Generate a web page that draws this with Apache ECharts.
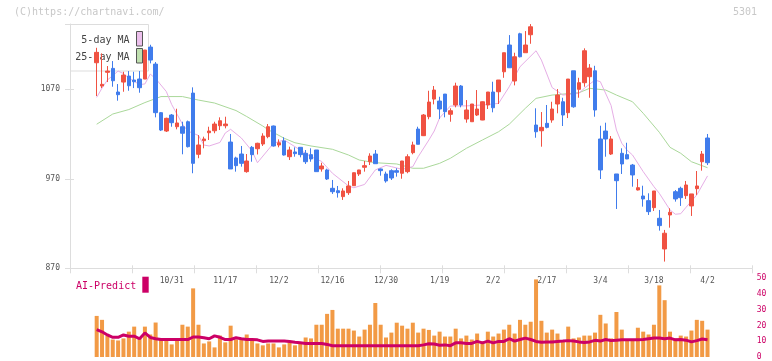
<!DOCTYPE html>
<html><head><meta charset="utf-8">
<script src="https://cdn.jsdelivr.net/npm/echarts@6/dist/echarts.min.js"></script>
<style>html,body{margin:0;padding:0;background:#fff}#c{width:772px;height:361px}</style>
</head><body><div id="c"></div>
<script>
const dates = ['10/10','10/14','10/15','10/16','10/17','10/20','10/21','10/22','10/23','10/24','10/27','10/28','10/29','10/30','10/31',
'11/4','11/5','11/6','11/7','11/10','11/11','11/12','11/13','11/14','11/17','11/18','11/19','11/20','11/21','11/25','11/26','11/27','11/28',
'12/1','12/2','12/3','12/4','12/5','12/8','12/9','12/10','12/11','12/12','12/15','12/16','12/17','12/18','12/19','12/22','12/23','12/24','12/25','12/26','12/29','12/30',
'1/5','1/6','1/7','1/8','1/9','1/13','1/14','1/15','1/16','1/19','1/20','1/21','1/22','1/23','1/26','1/27','1/28','1/29','1/30',
'2/2','2/3','2/4','2/5','2/6','2/9','2/10','2/12','2/13','2/16','2/17','2/18','2/19','2/20','2/24','2/25','2/26','2/27',
'3/2','3/3','3/4','3/5','3/6','3/9','3/10','3/11','3/12','3/13','3/16','3/17','3/18','3/19','3/23','3/24','3/25','3/26','3/27','3/30','3/31','4/1','4/2'];
const labelDates = ['10/31','11/17','12/2','12/16','12/30','1/19','2/2','2/17','3/4','3/18','4/2'];

const openP = [1099.7,1073.7,1089,1093.4,1067,1078.1,1084.8,1080.4,1081.5,1081.5,
1117.2,1098.2,1043.9,1023.4,1041.3,1028.2,1028.2,1033.8,1065.8,997.4,
1012.6,1021.5,1023.7,1029.3,1029.3,1011.1,993.3,997.7,978,1005.2,
1003.6,1008.9,1017.1,1029,1007.8,1012.3,994.7,1000,1005.2,998.5,
997,1002.2,981,979.9,959.4,956.7,950.1,954.5,962.3,975.4,
982.9,989.1,997.7,981,975.4,979.1,979.1,976.2,978,999.2,
1025.6,1018.2,1039.4,1059.1,1056.9,1064.7,1042.1,1052.5,1073.7,1036.8,
1033.8,1041.3,1035.7,1052.5,1067,1067.3,1089.6,1119.5,1079.3,1132.1,
1110.9,1131,1030.1,1023.7,1032,1035.7,1053.6,1056.1,1043.9,1090.7,
1070,1077.4,1084.1,1090.7,1014.5,1023.4,997.7,975.4,998.5,997,
985.4,957.5,950.8,945.6,937.8,925.9,891.6,929.6,955.6,959.4,
951.2,939.7,959,989.1,1015.6];
const closeP = [1111.3,1075.6,1090.4,1079.6,1064,1085.9,1074,1078.5,1071.8,1113.9,
1102.7,1043.9,1024.5,1037.6,1032.7,1032.4,1020.9,1005.9,987.3,1007.8,
1014.5,1023.4,1031.2,1034.9,1031.2,981,984.7,987.3,989.9,997,
1009.7,1017.8,1028.2,1006.7,1010.3,996.6,1002.2,998.1,997,989.1,
992.2,978,984.3,969.8,955.6,954.5,956.4,962,976.8,979.9,
984.7,995.5,986.9,979.1,967.6,970.9,977.3,989.9,994.7,1007.8,
1008.6,1041.3,1055.8,1069.2,1048,1045,1046.1,1073.7,1052.5,1046.9,
1053.6,1048,1056.1,1067,1049.4,1080.4,1110.9,1094.1,1106.4,1106.4,
1119.5,1139.9,1022.6,1027.5,1027.5,1048,1063.6,1041.3,1081.5,1050.5,
1077.4,1113.1,1093.8,1046.9,979.9,1014.5,1014.5,967.9,986.6,992.2,
974.3,960.1,947.5,933.3,956.4,917.7,909.2,932.6,947.5,948.9,
963.1,953.1,962,997.7,988];
const lowP = [1062.5,1071.4,1078.1,1072.9,1057.3,1067.3,1068.4,1071.4,1066.2,1081.5,
1099,1038.7,1023.4,1022.3,1028.2,1025.3,997.4,1005,976.2,993,
1004.1,1013.4,1020.9,1024.5,1026.4,981,978,983.6,976.8,989.1,
997.2,1006.7,1015.3,1006,1005.2,996,991,994.7,994,986.6,
989.1,978,978,968.7,953.1,949,946.4,952,962,973.2,
978,985.4,986.9,973.5,965.7,968.7,972.4,970.1,976.2,997.4,
1008.6,1017.8,1036.5,1053.2,1036.8,1038.7,1033.8,1049.9,1049.9,1032.7,
1033.8,1040.2,1035.5,1048,1044.3,1053.6,1082.9,1094,1074.4,1105.7,
1110.9,1120.9,1015.9,1005.9,1026.4,1032.7,1043.2,1029,1037.9,1049.4,
1060.6,1072.9,1060.6,1039.4,969.8,994.7,996.6,936.3,975.4,992,
961.2,957,938.9,929.6,934.1,912.1,877.5,915.4,944.5,939.7,
947.5,928.5,952,979.1,985.4];
const highP = [1116.4,1110.2,1096,1101.6,1075.9,1089.6,1090.4,1089.6,1090.4,1113.9,
1119.8,1100.5,1044.6,1038.3,1042.4,1048.3,1033.8,1035.1,1072.2,1018.9,
1017.1,1028.2,1033.8,1038.7,1039.4,1020.1,994.7,1006.7,997.7,1006.7,
1010.3,1020.9,1031.2,1029.5,1014.1,1016.4,1005.9,1005.2,1005.5,1002.2,
1004.1,1002.2,988,981.3,968.7,962,959.4,967.6,977,980,
989.9,998.5,1002.2,981.5,978,980.6,981.8,990,997.4,1011.5,
1028.2,1042.4,1068.4,1073.7,1061.7,1064.7,1048.8,1077.4,1074.8,1058,
1053.6,1069.2,1056.5,1067,1078.5,1080.4,1110.9,1130.6,1110.9,1133.2,
1135.1,1142.9,1048.8,1044.6,1052.5,1056.1,1070.3,1060.6,1081.5,1090.7,
1082.9,1115.8,1098.2,1096.3,1029.3,1032.7,1017.8,975.4,1004.1,1010.3,
986.6,969.8,962.3,953.8,956.4,935.2,912.9,937.1,957.5,961.2,
967.6,953.1,978.7,1001.1,1020.1];

const ma5 = [[0,1061],[1,1071.4],[2,1080.4],[4,1090.4],[5,1087.6],[6,1082.6],[8,1075.3],[9,1076],[10,1087],[11,1082],
[13,1067.5],[14,1053],[16,1031.2],[17,1023.4],[19,1018.4],[20,1007.8],[21,1006.7],[23,1010.6],[24,1021.2],[25,1025.3],
[27,1015.6],[29,1001.1],[30,988],[33,1009.7],[35,1013.4],[37,1005.9],[40,994.7],[42,989.4],[44,976.2],[47,962],
[48,960],[50,963.7],[52,979.9],[54,985],[55,983.6],[57,980.6],[59,983.6],[60,994.7],[62,1013.4],[63,1023.4],
[64,1038],[66,1051.3],[69,1051.5],[72,1052.5],[75,1054.3],[77,1072.9],[79,1095.2],[82,1113.1],[83,1102.7],[85,1072],
[87,1063.6],[90,1065.5],[91,1071.1],[93,1080.4],[94,1078.5],[96,1052],[97,1024.5],[98,1009.7],[99,1002],[100,996.6],
[102,978],[104,961.2],[105,953.8],[107,935.2],[108,930.4],[109,931],[110,938.2],[112,952],[114,973.2]];
const ma25 = [[0,1031],[3,1042.4],[6,1047.4],[9,1055.2],[12,1061.9],[16,1061.9],[19,1058],[22,1054.7],[26,1046.3],[28,1039.6],
[31,1029],[32,1024.9],[35,1015.3],[37,1010.3],[40,1006.7],[44,1003],[47,996.6],[49,991],[52,988],[56,986.6],
[59,981.8],[61,981.8],[64,987.3],[66,992.9],[69,1004.1],[72,1013.4],[75,1022.6],[77,1031],[80,1048.8],[82,1059.9],
[85,1063.6],[90,1066.2],[92,1071.1],[95,1069.2],[97,1063.6],[100,1056.1],[102,1043.2],[105,1022],[107,1005.2],[109,998.5],
[111,989.1],[114,982.4]];

const volume = [26.1,23.6,13.6,11.1,10.5,11.8,16.1,19.3,11.8,19.3,
14.3,21.9,11.1,11.1,8,11.1,20.5,19.3,43.6,20.5,
8.6,9.9,6.1,13.6,9.3,19.9,11.1,11.1,14.3,11.1,
8.6,7.4,8.6,8.6,6.1,8,9.3,7.4,8.6,12.4,
11.8,20.5,20.5,27.4,29.9,18,18,18,16.8,13,
17.4,20.5,34.3,20.5,12.4,15.5,21.8,19.9,18,21.8,
15.5,18,17.2,13.6,16.1,13,13,18,11.8,13.6,
11.1,14.9,9.9,16.1,13,14.9,17.4,20.5,14.9,23.6,
20.5,22.4,49.3,23,15.5,17.4,14.9,9.9,19.3,11.8,
12.4,13.6,13.6,15.5,26.8,21.3,11.8,28.6,17.4,10.5,
10.5,18.6,16.1,14.3,20.5,45.5,36.1,16.1,11.8,13.6,
13,16.8,23.6,23,17.4];
const aiPredict = [17.4,16,14,12.5,12.5,14,13.2,13.2,11.6,15.3,
12.4,11.6,11.1,11.1,11.1,11.1,11.1,11.1,12.7,12.7,
12.2,11.6,13.4,12.5,11.1,11.1,12.2,11.6,11.1,11.1,
10.9,9.9,10.1,10.1,10.1,10.1,9.9,9.4,9,8.6,
8.6,8.6,8.6,8,7.2,7.2,7.2,7.2,7.2,7.2,
7.2,7.2,7.2,7.2,7.2,7.2,7.2,7.2,7.2,7.2,
7.2,7.7,8.4,8.2,7.5,7.7,7.2,9,9,8.6,
8.6,9.9,9,10.1,9,9.9,9.9,11.6,10.1,11.1,
12,11.1,9.9,9.4,9.6,9.6,9.9,10.1,10.4,10.1,
9.6,9.2,9.6,10.6,10.1,11.1,10.4,10.7,10.9,10.9,
10.9,10.9,11.1,11.6,12,12,11.6,12,10.9,11.1,
10.7,9.6,10.4,11.4,10.9];

const priceMin = 870, priceMax = 1143, priceStep = 100;
const volMin = 0, volMax = 50, volStep = 10;

const MONO = '"DejaVu Sans Mono", monospace';
const RED = '#f05242', BLUE = '#407cec';

const chart = echarts.init(document.getElementById('c'), null, {renderer: 'canvas'});
const candle = openP.map((o, i) => [o, closeP[i], lowP[i], highP[i]]);
const GL = 94.0, GW = 616.2;

chart.setOption({
  animation: false,
  backgroundColor: '#fff',
  grid: [
    {left: 70, top: 24, width: 682, height: 244.3},
    {left: GL, top: 24, width: GW, height: 244.3},
    {left: GL, top: 278.3, width: GW, height: 79.4}
  ],
  xAxis: [
    {gridIndex: 0, type: 'value', min: 0, max: 11, interval: 1, position: 'bottom',
     axisLine: {show: true, lineStyle: {color: '#dddddd', width: 1}},
     axisTick: {show: true, inside: true, length: 3, lineStyle: {color: '#dddddd'}},
     axisLabel: {show: false}, splitLine: {show: false}},
    {gridIndex: 0, type: 'value', min: 0, max: 11, interval: 1, position: 'bottom',
     axisLine: {show: false},
     axisTick: {show: true, inside: false, length: 5, lineStyle: {color: '#dddddd'}},
     axisLabel: {show: false}, splitLine: {show: false}},
    {gridIndex: 1, type: 'category', data: dates, boundaryGap: true,
     axisLine: {show: false}, axisTick: {show: false}, splitLine: {show: false},
     axisLabel: {show: true, interval: (idx, val) => labelDates.indexOf(val) >= 0,
       color: '#555', fontSize: 8, fontFamily: MONO, margin: 9}},
    {gridIndex: 2, type: 'category', data: dates, boundaryGap: true, show: false}
  ],
  yAxis: [
    {gridIndex: 0, type: 'value', min: priceMin, max: priceMax, interval: priceStep, position: 'left',
     axisLine: {show: true, lineStyle: {color: '#dddddd'}},
     axisTick: {show: true, inside: false, length: 5, lineStyle: {color: '#dddddd'}},
     axisLabel: {color: '#555', fontSize: 8, fontFamily: MONO, margin: 10,
       formatter: v => ((v - priceMin) % priceStep === 0 ? String(v) : '')},
     splitLine: {show: false}},
    {gridIndex: 0, type: 'value', min: priceMin, max: priceMax, interval: priceStep, position: 'left',
     axisLine: {show: false},
     axisTick: {show: true, inside: true, length: 4, lineStyle: {color: '#dddddd'}},
     axisLabel: {show: false}, splitLine: {show: false}},
    {gridIndex: 1, type: 'value', min: priceMin, max: priceMax, show: false},
    {gridIndex: 2, type: 'value', min: volMin, max: volMax, interval: volStep, position: 'right',
     axisLine: {show: false}, axisTick: {show: false}, splitLine: {show: false},
     axisLabel: {color: '#cc0066', fontSize: 8, fontFamily: MONO, margin: 46.5}}
  ],
  graphic: [
    {type: 'text', z: 0, style: {text: '(C)https://chartnavi.com/', x: 14, y: 12, font: '10px ' + MONO, fill: '#c8c8c8', textVerticalAlign: 'middle', verticalAlign: 'middle'}},
    {type: 'text', z: 0, style: {text: '5301', x: 757, y: 12, font: '10px ' + MONO, fill: '#c8c8c8', textAlign: 'right', align: 'right', textVerticalAlign: 'middle', verticalAlign: 'middle'}},
    {type: 'rect', z: 0, shape: {x: 70.5, y: 24.5, width: 78, height: 46.5}, style: {fill: 'rgba(255,255,255,0)', stroke: '#dddddd', lineWidth: 1}},
    {type: 'text', z: 0, style: {text: '5-day MA', x: 129.5, y: 40, font: '10px ' + MONO, fill: '#444', textAlign: 'right', align: 'right', textVerticalAlign: 'middle', verticalAlign: 'middle'}},
    {type: 'text', z: 0, style: {text: '25-day MA', x: 129.5, y: 57, font: '10px ' + MONO, fill: '#444', textAlign: 'right', align: 'right', textVerticalAlign: 'middle', verticalAlign: 'middle'}},
    {type: 'rect', z: 0, shape: {x: 136.5, y: 31.5, width: 6, height: 14.5}, style: {fill: '#ecc0ec', stroke: '#555', lineWidth: 1}},
    {type: 'rect', z: 0, shape: {x: 136.5, y: 48.5, width: 6, height: 14.5}, style: {fill: '#c0e0b0', stroke: '#555', lineWidth: 1}},
    {type: 'text', z: 0, style: {text: 'AI-Predict', x: 76, y: 286, font: '10px ' + MONO, fill: '#cc0066', textVerticalAlign: 'middle', verticalAlign: 'middle'}},
    {type: 'rect', z: 0, shape: {x: 142.3, y: 276.7, width: 6.4, height: 16}, style: {fill: '#cc0066'}}
  ],
  series: [
    {type: 'line', name: '25-day MA', xAxisIndex: 2, yAxisIndex: 2, data: ma25, showSymbol: false, silent: true, z: 1,
     lineStyle: {color: '#aad89a', width: 1}},
    {type: 'line', name: '5-day MA', xAxisIndex: 2, yAxisIndex: 2, data: ma5, showSymbol: false, silent: true, z: 1,
     lineStyle: {color: '#e6aee6', width: 1}},
    {type: 'candlestick', xAxisIndex: 2, yAxisIndex: 2, data: candle, barWidth: 4, z: 3,
     itemStyle: {color: RED, color0: BLUE, borderColor: RED, borderColor0: BLUE, borderWidth: 1}},
    {type: 'bar', xAxisIndex: 3, yAxisIndex: 3, data: volume, barWidth: 4, z: 3,
     itemStyle: {color: '#f29a45'}},
    {type: 'line', xAxisIndex: 3, yAxisIndex: 3, data: aiPredict, showSymbol: false, z: 4,
     lineStyle: {color: '#cc0066', width: 3}}
  ]
});
</script></body></html>
